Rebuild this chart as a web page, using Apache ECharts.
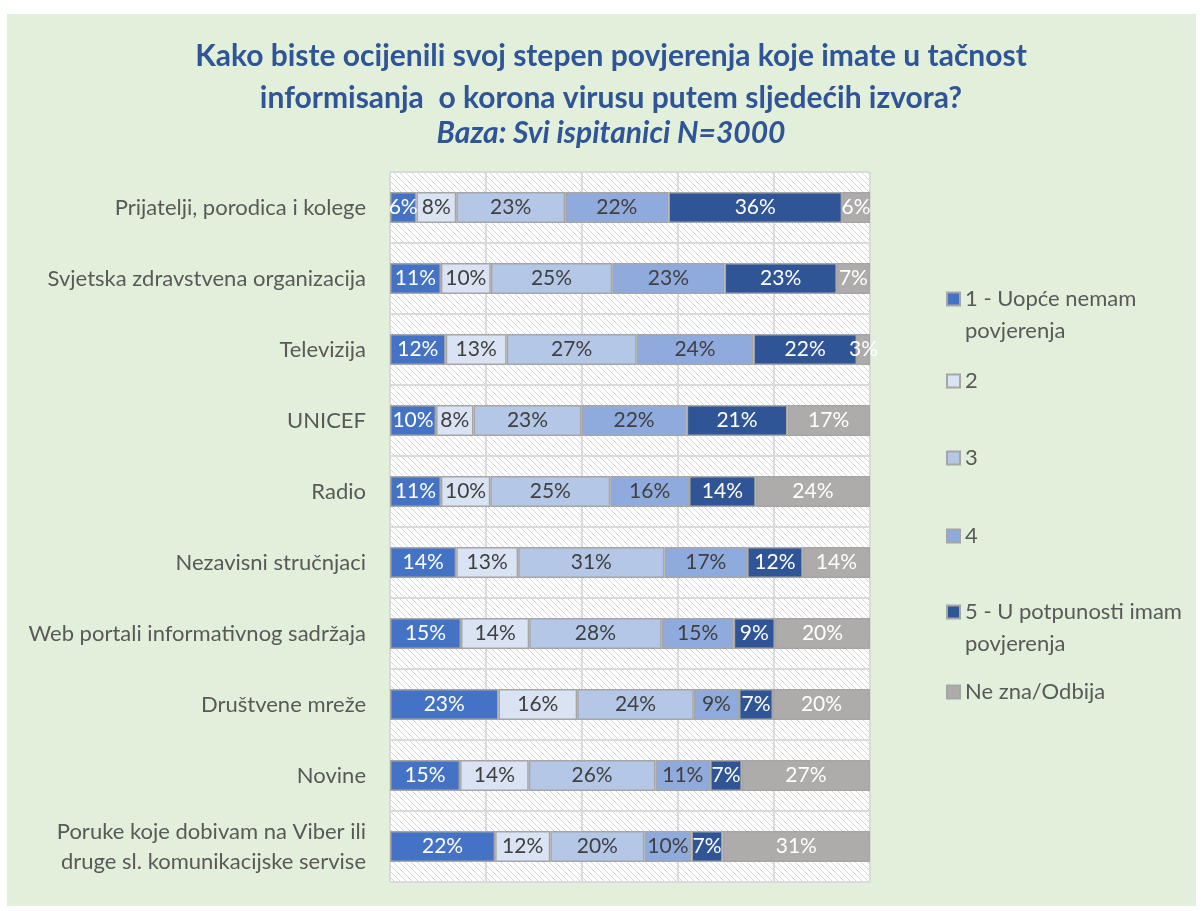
<!DOCTYPE html>
<html>
<head>
<meta charset="utf-8">
<title>Povjerenje u izvore informisanja</title>
<script src="https://cdn.jsdelivr.net/npm/echarts@6/dist/echarts.min.js"></script>
<style>
  html, body { margin: 0; padding: 0; background: #ffffff; }
  #chart { position: absolute; left: 7px; top: 14px; width: 1189px; height: 892px; }
</style>
</head>
<body>
<div id="chart"></div>
<script>
// izvori informacija (odozgo prema dolje)
var sources = ['Prijatelji, porodica i kolege', 'Svjetska zdravstvena organizacija', 'Televizija', 'UNICEF', 'Radio',
  'Nezavisni stručnjaci', 'Web portali informativnog sadržaja', 'Društvene mreže', 'Novine',
  'Poruke koje dobivam na Viber ili\ndruge sl. komunikacijske servise'];

// procenti po ocjeni
var ocjena1 = [5.5, 10.6, 11.6, 9.6, 10.6, 13.8, 14.8, 22.6, 14.6, 21.9];
var ocjena2 = [8.3, 10.4, 12.7, 7.8, 10.3, 12.9, 14.2, 16.4, 14.3, 11.5];
var ocjena3 = [22.7, 25.3, 27.1, 22.5, 25.0, 30.5, 27.6, 24.3, 26.4, 19.6];
var ocjena4 = [21.5, 23.4, 24.3, 21.9, 16.4, 17.2, 15.0, 9.4, 11.4, 9.8];
var ocjena5 = [36.2, 23.4, 21.6, 21.0, 13.9, 11.6, 8.6, 7.1, 6.6, 6.5];
var neZna = [5.8, 6.9, 2.7, 17.2, 23.8, 14.0, 19.8, 20.2, 26.7, 30.7];

var names = ['1 - Uopće nemam povjerenja', '2', '3', '4', '5 - U potpunosti imam povjerenja', 'Ne zna/Odbija'];
var values = [ocjena1, ocjena2, ocjena3, ocjena4, ocjena5, neZna];
var colors = ['#4472c4', '#dae3f3', '#b4c7e7', '#8faadc', '#2f5597', '#aeabab'];
var labelColors = ['#ffffff', '#404040', '#404040', '#404040', '#ffffff', '#ffffff'];

var FONT = 'Lato, "Noto Sans", sans-serif';

// srafura pozadine
var hatch = document.createElement('canvas');
hatch.width = 6; hatch.height = 6;
var hc = hatch.getContext('2d');
hc.fillStyle = '#ffffff';
hc.fillRect(0, 0, 6, 6);
hc.strokeStyle = '#d6d6d6';
hc.lineWidth = 1;
hc.beginPath();
hc.moveTo(-1, -1); hc.lineTo(7, 7);
hc.moveTo(-1, 5); hc.lineTo(1, 7);
hc.moveTo(5, -1); hc.lineTo(7, 1);
hc.stroke();

var series = [];
for (var i = 0; i < names.length; i++) {
  series.push({
    name: names[i],
    type: 'bar',
    stack: 'ukupno',
    barWidth: 31,
    data: values[i],
    itemStyle: { color: colors[i], borderColor: '#a6a6a6', borderWidth: 1.5 },
    label: {
      show: true,
      position: 'inside',
      color: labelColors[i],
      fontFamily: FONT,
      fontSize: 21,
      formatter: function (p) { return Math.round(p.value) + '%'; }
    },
    emphasis: { disabled: true }
  });
}

// legenda: dugi nazivi se lome u dva reda, kvadratic stoji uz prvi red
var legendTop = [285, 365, 442, 520, 598, 676];
var legends = [];
for (var j = 0; j < names.length; j++) {
  var wrap = names[j].indexOf('povjerenja') > 0;
  legends.push({
    data: [names[j]],
    left: 939,
    top: wrap ? legendTop[j] - 48 : legendTop[j] - 14,
    padding: 0,
    icon: 'rect',
    itemWidth: 13,
    itemHeight: 13,
    selectedMode: false,
    formatter: function (n) {
      return n.indexOf(' povjerenja') > 0 ? ' \n' + n.replace(' povjerenja', '\npovjerenja') : n;
    },
    textStyle: { fontFamily: FONT, fontSize: 22, color: '#595959', lineHeight: 32 }
  });
}

var myChart = echarts.init(document.getElementById('chart'));
var option = {
  backgroundColor: '#e2efda',
  animation: false,
  title: [
    {
      text: 'Kako biste ocijenili svoj stepen povjerenja koje imate u tačnost\ninformisanja  o korona virusu putem sljedećih izvora?',
      left: 604, top: 21, textAlign: 'center', padding: 0,
      textStyle: { fontFamily: FONT, fontSize: 30, fontWeight: 'bold', color: '#2f5597', lineHeight: 42 }
    },
    {
      text: 'Baza: Svi ispitanici N=3000',
      left: 604, top: 103, textAlign: 'center', padding: 0,
      textStyle: { fontFamily: FONT, fontSize: 30, fontWeight: 'bold', fontStyle: 'italic', color: '#2f5597', lineHeight: 32 }
    }
  ],
  legend: legends,
  grid: {
    left: 383, top: 158, width: 480, height: 710,
    show: true,
    borderWidth: 0,
    backgroundColor: { image: hatch, repeat: 'repeat' }
  },
  xAxis: {
    type: 'value',
    min: 0, max: 100, interval: 20,
    axisLabel: { show: false },
    axisLine: { show: false },
    axisTick: { show: false },
    splitLine: { show: true, lineStyle: { color: '#dadada', width: 2 } }
  },
  yAxis: {
    type: 'category',
    inverse: true,
    data: sources,
    axisLine: { show: false },
    axisTick: { show: false },
    splitLine: { show: true, lineStyle: { color: '#dadada', width: 2 } },
    axisLabel: { margin: 24, fontFamily: FONT, fontSize: 22, color: '#595959', lineHeight: 30 }
  },
  series: series
};
myChart.setOption(option);
</script>
</body>
</html>
